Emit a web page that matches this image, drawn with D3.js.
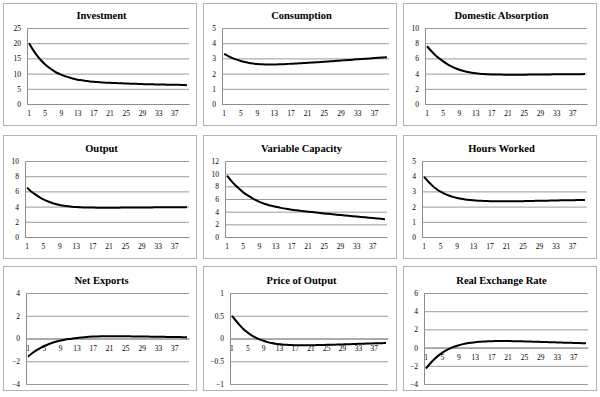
<!DOCTYPE html>
<html>
<head>
<meta charset="utf-8">
<script src="https://cdn.jsdelivr.net/npm/d3@7"></script>
<style>
  html, body { margin: 0; padding: 0; background: #fff; }
  svg { display: block; }
</style>
</head>
<body>
<svg id="chart" width="600" height="397"></svg>
<script>
// ---------- DATA ----------
const periods = [1,2,3,4,5,6,7,8,9,10,11,12,13,14,15,16,17,18,19,20,
                 21,22,23,24,25,26,27,28,29,30,31,32,33,34,35,36,37,38,39,40];
const xTickLabels = [1,5,9,13,17,21,25,29,33,37];

const titles = ["Investment","Consumption","Domestic Absorption",
                "Output","Variable Capacity","Hours Worked",
                "Net Exports","Price of Output","Real Exchange Rate"];

const investment = [20,17.8,15.9,14.3,13.0,11.9,11.0,10.2,9.6,9.1,8.7,8.3,8.0,7.8,7.6,7.4,7.3,7.2,7.1,7.0,
                    6.95,6.9,6.85,6.8,6.75,6.7,6.65,6.6,6.55,6.5,6.5,6.45,6.4,6.4,6.35,6.35,6.3,6.3,6.25,6.2];
const consumption = [3.3,3.15,3.02,2.92,2.83,2.76,2.70,2.66,2.63,2.61,2.60,2.60,2.60,2.61,2.62,2.63,2.65,2.66,2.68,2.69,
                     2.71,2.73,2.74,2.76,2.78,2.80,2.82,2.84,2.86,2.88,2.90,2.92,2.94,2.96,2.98,3.00,3.02,3.04,3.06,3.08];
const domesticAbsorption = [7.6,7.0,6.45,6.0,5.6,5.25,4.95,4.7,4.5,4.35,4.22,4.12,4.04,3.98,3.94,3.91,3.89,3.88,3.87,3.86,
                            3.86,3.86,3.86,3.86,3.86,3.87,3.87,3.88,3.88,3.89,3.89,3.9,3.9,3.91,3.91,3.92,3.92,3.93,3.93,3.94];
const output = [6.5,6.0,5.6,5.25,4.95,4.7,4.5,4.34,4.22,4.12,4.04,3.98,3.94,3.91,3.89,3.88,3.87,3.86,3.86,3.86,
                3.86,3.86,3.86,3.87,3.87,3.87,3.88,3.88,3.88,3.89,3.89,3.9,3.9,3.9,3.91,3.91,3.92,3.92,3.93,3.93];
const variableCapacity = [9.7,8.9,8.2,7.6,7.05,6.6,6.2,5.85,5.55,5.3,5.1,4.92,4.77,4.64,4.52,4.42,4.32,4.23,4.15,4.07,
                          4.0,3.93,3.86,3.79,3.72,3.66,3.59,3.53,3.47,3.41,3.35,3.29,3.23,3.17,3.11,3.05,2.99,2.93,2.87,2.8];
const hoursWorked = [3.95,3.65,3.38,3.16,2.98,2.84,2.73,2.64,2.57,2.51,2.47,2.44,2.41,2.39,2.38,2.37,2.36,2.36,2.35,2.35,
                     2.35,2.35,2.36,2.36,2.36,2.37,2.37,2.38,2.38,2.39,2.39,2.4,2.4,2.41,2.41,2.42,2.42,2.43,2.43,2.44];
const netExports = [-1.6,-1.3,-1.05,-0.84,-0.66,-0.51,-0.38,-0.27,-0.18,-0.11,-0.05,0.0,0.05,0.09,0.12,0.15,0.17,0.18,0.19,0.2,
                    0.2,0.2,0.2,0.2,0.19,0.19,0.18,0.18,0.17,0.17,0.16,0.16,0.15,0.15,0.14,0.14,0.13,0.13,0.12,0.12];
const priceOfOutput = [0.5,0.39,0.29,0.2,0.13,0.07,0.02,-0.02,-0.05,-0.08,-0.1,-0.115,-0.125,-0.135,-0.14,-0.145,-0.148,-0.15,-0.15,-0.15,
                       -0.148,-0.146,-0.144,-0.142,-0.14,-0.138,-0.135,-0.132,-0.13,-0.127,-0.124,-0.121,-0.118,-0.115,-0.112,-0.11,-0.107,-0.104,-0.102,-0.1];
const realExchangeRate = [-2.3,-1.75,-1.28,-0.88,-0.55,-0.28,-0.06,0.12,0.26,0.38,0.47,0.54,0.6,0.64,0.67,0.69,0.71,0.72,0.72,0.72,
                          0.72,0.71,0.7,0.69,0.68,0.67,0.65,0.64,0.62,0.61,0.6,0.58,0.57,0.55,0.54,0.53,0.51,0.5,0.49,0.48];

const seriesList = [investment, consumption, domesticAbsorption, output, variableCapacity,
                    hoursWorked, netExports, priceOfOutput, realExchangeRate];

const yTicksList = [
  [0,5,10,15,20,25],
  [0,1,2,3,4,5],
  [0,2,4,6,8,10],
  [0,2,4,6,8,10],
  [0,2,4,6,8,10,12],
  [0,1,2,3,4,5],
  [-4,-2,0,2,4],
  [-1,-0.5,0,0.5,1],
  [-4,-2,0,2,4,6]
];

// ---------- LAYOUT ----------
const colX = [3, 203, 403];
const rowY = [3, 135, 266];
const panelW = 193;
const rowH = [122, 123, 124];
const plotTop = [25, 26, 27];
const plotBottom = [101, 102, 118];
const plotLeft = [24, 19, 22, 22, 22, 19, 23, 27, 21];
const plotRight = [186, 186, 184, 186, 184, 184, 186, 185, 185];

const svg = d3.select("#chart");

seriesList.forEach((vals, i) => {
  const r = Math.floor(i / 3), c = i % 3;
  const px = colX[c], py = rowY[r];
  const g = svg.append("g").attr("transform", `translate(${px},${py})`);

  g.append("rect")
    .attr("x", 0.5).attr("y", 0.5)
    .attr("width", panelW).attr("height", rowH[r])
    .attr("fill", "#fff").attr("stroke", "#b4b4b4").attr("stroke-width", 1);

  g.append("text")
    .attr("x", panelW / 2 + 2).attr("y", plotTop[r] - 9)
    .attr("text-anchor", "middle")
    .attr("font-family", "'Liberation Serif', serif")
    .attr("font-weight", "bold")
    .attr("font-size", 10.5)
    .attr("fill", "#000")
    .text(titles[i]);

  const ticks = yTicksList[i];
  const y = d3.scaleLinear()
    .domain([ticks[0], ticks[ticks.length - 1]])
    .range([plotBottom[r], plotTop[r]]);
  const x = d3.scaleBand()
    .domain(periods)
    .range([plotLeft[i], plotRight[i]]);
  const xc = d => x(d) + x.bandwidth() / 2;
  const w = plotRight[i] - plotLeft[i];

  // gridlines + y axis labels
  const yAxis = d3.axisLeft(y).tickValues(ticks).tickSize(-w).tickPadding(6)
    .tickFormat(d3.format(""));
  const ya = g.append("g").attr("transform", `translate(${plotLeft[i]},0)`).call(yAxis);
  ya.select(".domain").attr("stroke", "#8c8c8c");
  ya.selectAll(".tick line").attr("stroke", "#9a9a9a").attr("stroke-width", 1);
  ya.selectAll(".tick text")
    .attr("font-family", "'Liberation Serif', serif")
    .attr("font-size", 7.5).attr("fill", "#000");

  // x axis at zero
  const xAxis = d3.axisBottom(x).tickValues(xTickLabels).tickSize(0).tickPadding(7);
  const xa = g.append("g").attr("transform", `translate(0,${y(0)})`).call(xAxis);
  xa.select(".domain").attr("stroke", "#8c8c8c");
  xa.selectAll(".tick text")
    .attr("font-family", "'Liberation Serif', serif")
    .attr("font-size", 7.5).attr("fill", "#000");

  const line = d3.line()
    .x((d, k) => xc(periods[k]))
    .y(d => y(d))
    .curve(d3.curveMonotoneX);
  g.append("path")
    .datum(vals)
    .attr("d", line)
    .attr("fill", "none")
    .attr("stroke", "#000")
    .attr("stroke-width", 2);
});
</script>
</body>
</html>
